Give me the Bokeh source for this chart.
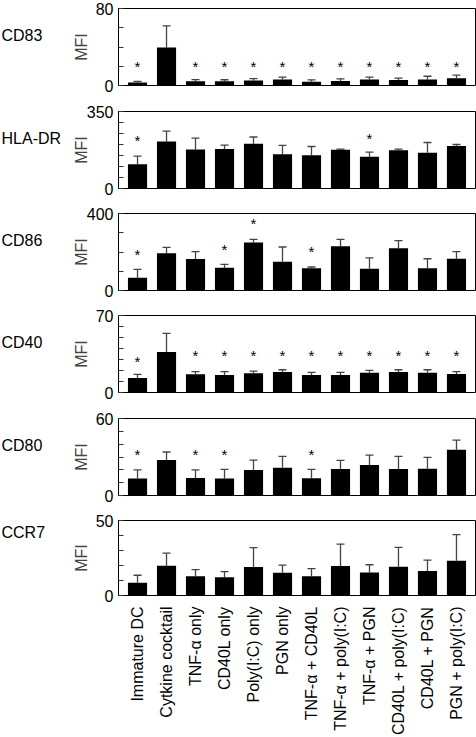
import math
from bokeh.plotting import figure
from bokeh.models import (ColumnDataSource, Range1d, FixedTicker, Whisker, TeeHead)
from bokeh.layouts import column, row
from bokeh.core.properties import value
from bokeh.embed import file_html
from bokeh.resources import INLINE

# ---------------- data ----------------
categories = ["Immature DC", "Cytkine cocktail", "TNF-\u03b1 only", "CD40L only",
              "Poly(I:C) only", "PGN only", "TNF-\u03b1 + CD40L", "TNF-\u03b1 + poly(I:C)",
              "TNF-\u03b1 + PGN", "CD40L + poly(I:C)", "CD40L + PGN", "PGN + poly(I:C)"]

panel_names = ["CD83", "HLA-DR", "CD86", "CD40", "CD80", "CCR7"]
y_max = [80, 350, 400, 70, 60, 50]
y_step = [20, 50, 100, 10, 10, 10]

cd83_mean = [3, 39.5, 4.5, 4.5, 5.2, 6.2, 4, 4.8, 6.2, 5.8, 6.2, 7.6]
cd83_err = [1.2, 22.5, 1.7, 1.5, 2.0, 2.4, 1.8, 2.1, 2.4, 1.8, 3.4, 3.1]
cd83_star = [20, None, 20, 20, 20, 20, 20, 20, 20, 20, 20, 20]

hla_mean = [110, 214, 177, 179, 203, 156, 151, 176, 144, 174, 162, 193]
hla_err = [37, 47, 52, 18, 31, 40, 40, 3, 21, 5, 47, 7]
hla_star = [217, None, None, None, None, None, None, None, 228, None, None, None]

cd86_mean = [66, 193, 163, 118, 250, 150, 115, 230, 113, 219, 115, 165]
cd86_err = [44, 31, 39, 18, 16, 76, 7, 36, 56, 40, 50, 37]
cd86_star = [188, None, None, 212, 348, None, 202, None, None, None, None, None]

cd40_mean = [13.2, 36.9, 16.5, 15.9, 17.4, 18.6, 15.9, 15.9, 18, 18.6, 18, 16.8]
cd40_err = [3.3, 16.8, 2.4, 3.0, 2.1, 2.1, 2.4, 2.4, 2.1, 2.1, 2.7, 2.1]
cd40_star = [28, None, 33.3, 33.3, 33.3, 33.3, 33.3, 33.3, 33.3, 33.3, 33.3, 33.3]

cd80_mean = [13.2, 27.6, 13.7, 13.2, 19.9, 21.7, 13.4, 20.7, 23.8, 20.7, 20.9, 35.7]
cd80_err = [6.7, 6.3, 6.2, 7.2, 7.7, 8.8, 7.0, 6.7, 7.7, 9.8, 8.8, 7.5]
cd80_star = [32.3, None, 32.3, 32.3, None, None, 32.3, None, None, None, None, None]

ccr7_mean = [8.5, 19.9, 12.9, 12.2, 19.0, 15.1, 12.9, 19.7, 15.3, 19.2, 16.4, 23.1]
ccr7_err = [5.0, 8.3, 4.3, 3.7, 12.9, 5.2, 5.0, 14.6, 5.2, 12.9, 7.2, 17.5]
ccr7_star = [None] * 12

means = [cd83_mean, hla_mean, cd86_mean, cd40_mean, cd80_mean, ccr7_mean]
errs = [cd83_err, hla_err, cd86_err, cd40_err, cd80_err, ccr7_err]
stars = [cd83_star, hla_star, cd86_star, cd40_star, cd80_star, ccr7_star]

# ---------------- layout ----------------
FONT = "Liberation Sans"
NAME_W = 68          # width of the strip holding the panel names
LEFT = 118           # frame left edge on the page
FRAME_W = 357
RIGHT = 1
W = LEFT + FRAME_W + RIGHT
FRAME_H = 77
TOP = 8
fig_heights = [103, 102, 102, 103, 102, 225]
X0, X1 = 0.344, 12.656
positions = list(range(1, len(categories) + 1))

rows = []
n = len(panel_names)
for i in range(n):
    last = (i == n - 1)
    h = fig_heights[i]
    bottom = h - TOP - FRAME_H

    # --- name strip (text lives inside its own frame) ---
    nf = figure(width=NAME_W, height=h, output_backend="svg", toolbar_location=None,
                x_range=Range1d(0, NAME_W), y_range=Range1d(0, h),
                min_border=0, min_border_left=0, min_border_right=0,
                min_border_top=0, min_border_bottom=0)
    nf.axis.visible = False
    nf.grid.visible = False
    nf.outline_line_color = None
    nf.text(x=[1], y=[h - TOP - 27.5], text=[panel_names[i]], text_font=value(FONT),
            text_font_size="16px", text_align="left", text_baseline="middle",
            text_color="black")

    # --- bar panel ---
    p = figure(width=W - NAME_W, height=h, output_backend="svg", toolbar_location=None,
               x_range=Range1d(X0, X1), y_range=Range1d(0, y_max[i]),
               min_border_left=LEFT - NAME_W, min_border_right=RIGHT,
               min_border_top=TOP, min_border_bottom=bottom)
    p.grid.visible = False
    p.outline_line_color = "black"
    p.outline_line_width = 1
    p.background_fill_color = "white"
    p.border_fill_color = "white"

    src = ColumnDataSource(dict(x=positions, m=means[i],
                                up=[a + b for a, b in zip(means[i], errs[i])]))
    p.vbar(x="x", top="m", width=0.66, source=src, fill_color="black", line_color=None)
    wh = Whisker(base="x", lower="m", upper="up", source=src,
                 line_color="#444444", line_width=1.3,
                 upper_head=TeeHead(size=8, line_color="#444444", line_width=1.3),
                 lower_head=None)
    p.add_layout(wh)

    sx = [x for x, s in zip(positions, stars[i]) if s is not None]
    sy = [s for s in stars[i] if s is not None]
    if sx:
        p.text(x=sx, y=sy, text=["*"] * len(sx), text_font=value(FONT),
               text_font_size="15px", text_align="center", text_baseline="alphabetic",
               text_color="black")

    # y axis
    ya = p.yaxis[0]
    ticks = list(range(0, y_max[i] + 1, y_step[i]))
    ya.ticker = FixedTicker(ticks=ticks)
    ya.major_label_overrides = {t: "" for t in ticks if t not in (0, y_max[i])}
    ya.minor_tick_line_color = None
    ya.major_tick_in = 5
    ya.major_tick_out = 0
    ya.major_tick_line_color = "#333333"
    ya.axis_line_color = "black"
    ya.major_label_standoff = 5
    ya.major_label_text_font = FONT
    ya.major_label_text_font_size = "16px"
    ya.major_label_text_color = "black"
    ya.axis_label = "MFI"
    ya.axis_label_text_font = FONT
    ya.axis_label_text_font_size = "16px"
    ya.axis_label_text_font_style = "normal"
    ya.axis_label_standoff = -6 if y_max[i] >= 100 else 3

    # x axis
    xa = p.xaxis[0]
    if last:
        xa.ticker = FixedTicker(ticks=positions)
        xa.major_label_overrides = {x: c for x, c in zip(positions, categories)}
        xa.major_label_orientation = math.pi / 2
        xa.major_tick_line_color = None
        xa.minor_tick_line_color = None
        xa.axis_line_color = None
        xa.major_label_standoff = 5
        xa.major_label_text_font = FONT
        xa.major_label_text_font_size = "16px"
        xa.major_label_text_color = "black"
    else:
        xa.visible = False

    rows.append(row(nf, p, spacing=0))

layout = column(*rows, spacing=0)
open("out.html", "w").write(file_html(layout, INLINE))
